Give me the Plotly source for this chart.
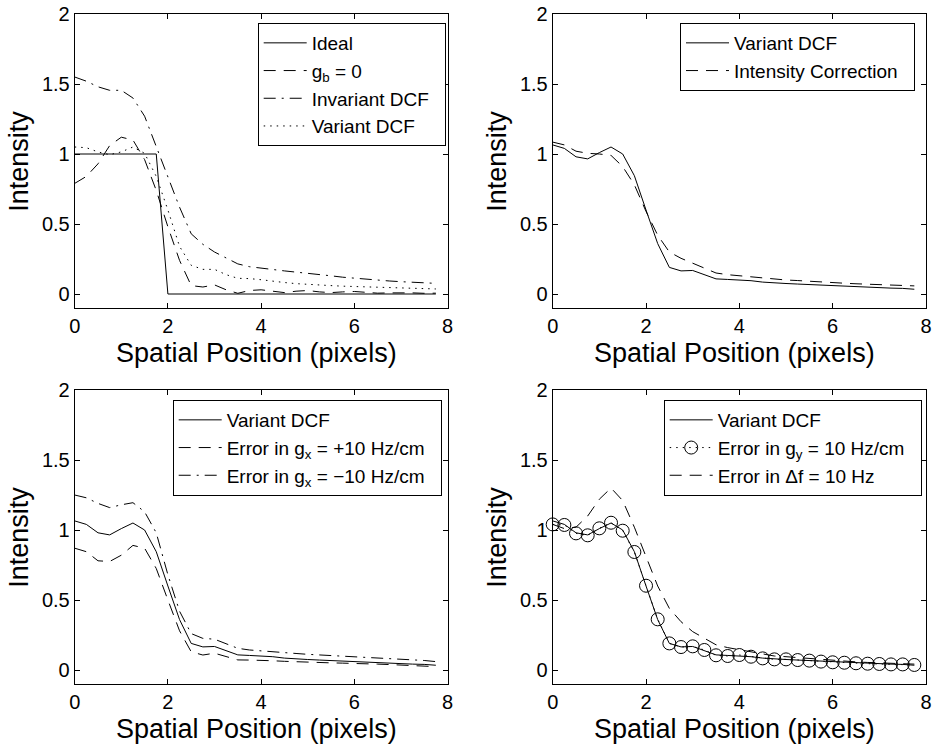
import plotly.graph_objects as go

# ---------------- data ----------------
x = [i * 0.25 for i in range(32)]

ideal = [1, 1, 1, 1, 1, 1, 1, 1, 0, 0, 0, 0, 0, 0, 0, 0,
         0, 0, 0, 0, 0, 0, 0, 0, 0, 0, 0, 0, 0, 0, 0, 0]
gb_zero = [0.79, 0.84, 0.93, 1.06, 1.12, 1.10, 0.96, 0.74, 0.48, 0.24, 0.06, 0.05,
           0.065, 0.03, 0.005, 0.025, 0.03, 0.02, 0.01, 0.02, 0.025, 0.015, 0.01, 0.015,
           0.018, 0.012, 0.006, 0.008, 0.01, 0.008, 0.005, 0.006]
invariant_dcf = [1.55, 1.52, 1.48, 1.455, 1.455, 1.40, 1.27, 1.05, 0.84, 0.62, 0.43, 0.355,
                 0.30, 0.255, 0.215, 0.195, 0.183, 0.175, 0.165, 0.157, 0.150, 0.140, 0.130, 0.120,
                 0.112, 0.105, 0.098, 0.093, 0.088, 0.085, 0.080, 0.076]
variant_dcf_a = [1.05, 1.045, 1.015, 0.995, 1.015, 1.05, 1.005, 0.84, 0.60, 0.34, 0.205, 0.176,
                 0.176, 0.138, 0.112, 0.110, 0.102, 0.090, 0.082, 0.074, 0.068, 0.064, 0.060, 0.056,
                 0.053, 0.050, 0.047, 0.044, 0.041, 0.040, 0.037, 0.036]

variant_dcf = [1.065, 1.04, 0.98, 0.965, 1.01, 1.05, 1.0, 0.845, 0.60, 0.36, 0.19, 0.165,
               0.168, 0.14, 0.108, 0.104, 0.102, 0.095, 0.085, 0.078, 0.075, 0.071, 0.067, 0.061,
               0.057, 0.054, 0.050, 0.047, 0.045, 0.042, 0.040, 0.034]
intensity_corr = [1.085, 1.065, 1.02, 1.005, 1.0, 0.99, 0.91, 0.78, 0.59, 0.42, 0.30, 0.255,
                  0.22, 0.185, 0.15, 0.138, 0.13, 0.125, 0.115, 0.108, 0.10, 0.096, 0.09, 0.085,
                  0.081, 0.077, 0.073, 0.069, 0.065, 0.062, 0.060, 0.058]

gx_plus = [0.87, 0.845, 0.78, 0.775, 0.82, 0.89, 0.87, 0.725, 0.50, 0.28, 0.13, 0.107,
           0.12, 0.095, 0.072, 0.071, 0.070, 0.066, 0.062, 0.058, 0.055, 0.053, 0.051, 0.049,
           0.048, 0.045, 0.042, 0.039, 0.036, 0.032, 0.028, 0.024]
gx_minus = [1.25, 1.23, 1.19, 1.16, 1.18, 1.195, 1.13, 0.98, 0.68, 0.42, 0.26, 0.226,
            0.22, 0.19, 0.155, 0.143, 0.138, 0.132, 0.125, 0.118, 0.112, 0.108, 0.104, 0.099,
            0.095, 0.092, 0.088, 0.085, 0.081, 0.075, 0.068, 0.060]

gy_err = [1.04, 1.036, 0.976, 0.962, 1.012, 1.052, 0.995, 0.843, 0.602, 0.362, 0.19, 0.164,
          0.169, 0.143, 0.105, 0.10, 0.107, 0.095, 0.083, 0.076, 0.076, 0.071, 0.067, 0.060,
          0.055, 0.052, 0.048, 0.045, 0.043, 0.040, 0.040, 0.036]
df_err = [1.04, 1.01, 1.02, 1.10, 1.22, 1.30, 1.21, 1.02, 0.81, 0.60, 0.44, 0.345,
          0.274, 0.226, 0.18, 0.16, 0.145, 0.125, 0.11, 0.10, 0.095, 0.088, 0.082, 0.075,
          0.068, 0.063, 0.058, 0.054, 0.051, 0.048, 0.045, 0.042]

x_ticks = [0, 2, 4, 6, 8]
y_ticks = [0, 0.5, 1, 1.5, 2]
y_tick_labels = ["0", "0.5", "1", "1.5", "2"]
x_title = "Spatial Position (pixels)"
y_title = "Intensity"

# ---------------- styles ----------------
FONT = "Liberation Sans, Arial, Helvetica, sans-serif"
DASH = "12px,8px"
DASHDOT = "12px,6px,2px,6px"
DOT = "1.5px,5px"
PAD = "\u00a0\u00a0"   # right padding inside legend boxes

W, H = 934, 745
xdoms = [[74.7 / W, 447.5 / W], [552.7 / W, 926 / W]]
ydoms = [[1 - 308 / H, 1 - 14 / H], [1 - 684 / H, 1 - 390 / H]]

fig = go.Figure()

def line(xs, ys, name, dash, xa, ya, leg, **kw):
    fig.add_trace(go.Scatter(x=xs, y=ys, name=name + PAD, mode=kw.pop("mode", "lines"),
                             line=dict(color="black", width=1, dash=dash),
                             xaxis=xa, yaxis=ya, legend=leg, **kw))

# panel 1
line(x, ideal, "Ideal", "solid", "x", "y", "legend")
line(x, gb_zero, "g<sub>b</sub> = 0", DASH, "x", "y", "legend")
line(x, invariant_dcf, "Invariant DCF", DASHDOT, "x", "y", "legend")
line(x, variant_dcf_a, "Variant DCF", DOT, "x", "y", "legend")
# panel 2
line(x, variant_dcf, "Variant DCF", "solid", "x2", "y2", "legend2")
line(x, intensity_corr, "Intensity Correction", DASH, "x2", "y2", "legend2")
# panel 3
line(x, variant_dcf, "Variant DCF", "solid", "x3", "y3", "legend3")
line(x, gx_plus, "Error in g<sub>x</sub> = +10 Hz/cm", DASH, "x3", "y3", "legend3")
line(x, gx_minus, "Error in g<sub>x</sub> = \u221210 Hz/cm", DASHDOT, "x3", "y3", "legend3")
# panel 4
line(x, variant_dcf, "Variant DCF", "solid", "x4", "y4", "legend4")
line(x, gy_err, "Error in g<sub>y</sub> = 10 Hz/cm", DOT, "x4", "y4", "legend4",
     mode="lines+markers",
     marker=dict(symbol="circle-open", size=13, color="black", line=dict(width=1, color="black")),
     cliponaxis=False)
line(x, df_err, "Error in \u0394f = 10 Hz", DASH, "x4", "y4", "legend4")

axis_common = dict(showline=True, linecolor="black", linewidth=1, mirror="ticks",
                   ticks="inside", ticklen=5, tickcolor="black", showgrid=False,
                   zeroline=False, automargin=False,
                   tickfont=dict(family=FONT, size=20, color="black"))

layout = dict(width=W, height=H, margin=dict(l=0, r=0, t=0, b=0, pad=0),
              paper_bgcolor="white", plot_bgcolor="white", template="none",
              font=dict(family=FONT, color="black"), annotations=[])

title_font = dict(family=FONT, size=27, color="black")
for i, (c, r) in enumerate([(0, 0), (1, 0), (0, 1), (1, 1)], start=1):
    sx = "" if i == 1 else str(i)
    layout["xaxis" + sx] = dict(domain=xdoms[c], range=[0, 8], tickvals=x_ticks,
                                anchor="y" + sx, **axis_common)
    layout["yaxis" + sx] = dict(domain=ydoms[r], range=[-0.1, 2], tickvals=y_ticks,
                                ticktext=y_tick_labels, anchor="x" + sx, **axis_common)
    xc = (xdoms[c][0] + xdoms[c][1]) / 2 - 5 / W
    ybot = ydoms[r][0]
    layout["annotations"].append(dict(text=x_title, xref="paper", yref="paper",
                                      x=xc, y=ybot - 45 / H, xanchor="center",
                                      yanchor="middle", showarrow=False, font=title_font))
    ymid = (ydoms[r][0] + ydoms[r][1]) / 2
    layout["annotations"].append(dict(text=y_title, xref="paper", yref="paper",
                                      x=(xdoms[c][0] * W - 56) / W, y=ymid,
                                      xanchor="center", yanchor="middle", textangle=-90,
                                      showarrow=False, font=title_font))

leg_common = dict(bgcolor="white", bordercolor="black", borderwidth=1,
                  font=dict(family=FONT, size=19, color="black"),
                  itemwidth=43, xanchor="right", yanchor="top", tracegroupgap=0)
layout["legend"] = dict(x=445.7 / W, y=1 - 23 / H, **leg_common)
layout["legend2"] = dict(x=915 / W, y=1 - 23 / H, **leg_common)
layout["legend3"] = dict(x=441.7 / W, y=1 - 400 / H, **leg_common)
layout["legend4"] = dict(x=921.7 / W, y=1 - 400 / H, **leg_common)

fig.update_layout(**layout)
fig.write_html("out.html", config={"displayModeBar": False},
               post_script="document.body.style.margin='0';document.body.style.overflow='hidden';")
